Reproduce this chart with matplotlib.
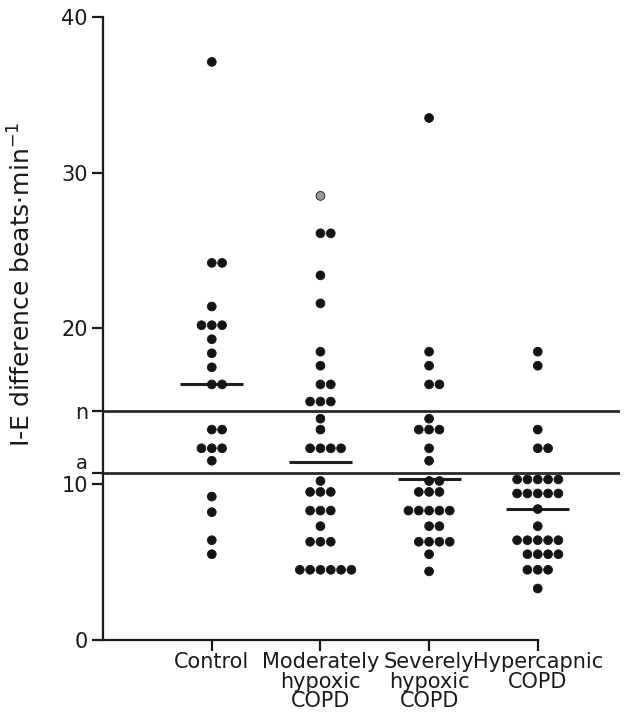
import numpy as np
import matplotlib.pyplot as plt

# groups along the x axis
groups = ["Control", "Moderately\nhypoxic\nCOPD", "Severely\nhypoxic\nCOPD", "Hypercapnic\nCOPD"]

# I-E difference (beats/min)
control = [37.1, 24.2, 24.2, 21.4, 20.2, 20.2, 20.2, 19.3, 18.4, 17.5, 16.4, 16.4,
           13.5, 13.5, 12.3, 12.3, 12.3, 11.5, 9.2, 8.2, 6.4, 5.5]
moderate = [28.5, 26.1, 26.1, 23.4, 21.6, 18.5, 17.6, 16.4, 16.4, 15.3, 15.3, 15.3,
            14.2, 13.5, 12.3, 12.3, 12.3, 12.3, 10.2, 9.5, 9.5, 9.5, 8.3, 8.3, 8.3,
            7.3, 6.3, 6.3, 6.3, 4.5, 4.5, 4.5, 4.5, 4.5, 4.5]
severe = [33.5, 18.5, 17.6, 16.4, 16.4, 14.2, 13.5, 13.5, 13.5, 12.3, 11.5,
          10.2, 10.2, 9.5, 9.5, 9.5, 8.3, 8.3, 8.3, 8.3, 8.3, 7.3, 7.3,
          6.3, 6.3, 6.3, 6.3, 5.5, 4.4]
hypercapnic = [18.5, 17.6, 13.5, 12.3, 12.3, 10.3, 10.3, 10.3, 10.3, 10.3,
               9.4, 9.4, 9.4, 9.4, 9.4, 8.4, 7.3, 6.4, 6.4, 6.4, 6.4, 6.4,
               5.5, 5.5, 5.5, 5.5, 4.5, 4.5, 4.5, 3.3]
group_values = [control, moderate, severe, hypercapnic]

# horizontal bar in each group
group_lines = [16.4, 11.4, 10.3, 8.4]

# reference levels drawn across the plot
ref_levels = [14.7, 10.7]
ref_labels = ["n", "a"]

# the one faint dot (group index, value)
faint = [(1, 28.5)]

yticks = [0, 10, 20, 30, 40]

plt.rcParams["font.family"] = ["DejaVu Sans"]

fig = plt.figure(figsize=(6.25, 7.28), dpi=100)
ax = fig.add_axes([0.165, 0.121, 0.827, 0.856])

dx = 0.095
xs, ys, cols = [], [], []
for gi, vals in enumerate(group_values):
    pos = gi + 1
    for v in sorted(set(vals)):
        k = vals.count(v)
        for i in range(k):
            xs.append(pos + (i - (k - 1) // 2) * dx)
            ys.append(v)
            cols.append("#9a9a9a" if (gi, v) in faint else "#141414")

ax.scatter(xs, ys, s=40, c=cols, edgecolors="#141414", linewidths=0.6, zorder=3)

pos = np.arange(1, len(groups) + 1)
ax.hlines(group_lines, pos - 0.29, pos + 0.29, color="#1e1e1e", lw=2.2, zorder=2)

ax.set_xlim(0, 4.757)
ax.set_ylim(0, 40)
ax.hlines(ref_levels, 0, 4.757, color="#2a2a2a", lw=2.0, zorder=1)

ax.spines["top"].set_visible(False)
ax.spines["right"].set_visible(False)
ax.spines["left"].set_bounds(0, 40)
ax.spines["bottom"].set_bounds(0, 4)
for s in ["left", "bottom"]:
    ax.spines[s].set_linewidth(1.6)
    ax.spines[s].set_color("#1a1a1a")

ax.set_xticks(pos)
ax.set_xticklabels(groups, fontsize=15, color="#1a1a1a")
for t in ax.get_xticklabels():
    t.set_linespacing(0.95)
ax.set_yticks(yticks + ref_levels)
ax.set_yticklabels([str(v) for v in yticks] + ref_labels, fontsize=15, color="#1a1a1a")
ax.tick_params(axis="both", length=8, width=1.6, color="#1a1a1a")
ax.tick_params(axis="x", pad=1)
ax.tick_params(axis="y", pad=3)
# lift the "a" label so it sits on its line, clear of "10"
for t in ax.get_yticklabels():
    if t.get_text() == "a":
        t.set_verticalalignment("bottom")
        t.set_fontsize(14)

ax.set_ylabel("I-E difference beats\u00b7min$^{-1}$", fontsize=18, color="#1a1a1a")
ax.yaxis.set_label_coords(-0.13, 0.571)

fig.savefig("out.png", dpi=100)
